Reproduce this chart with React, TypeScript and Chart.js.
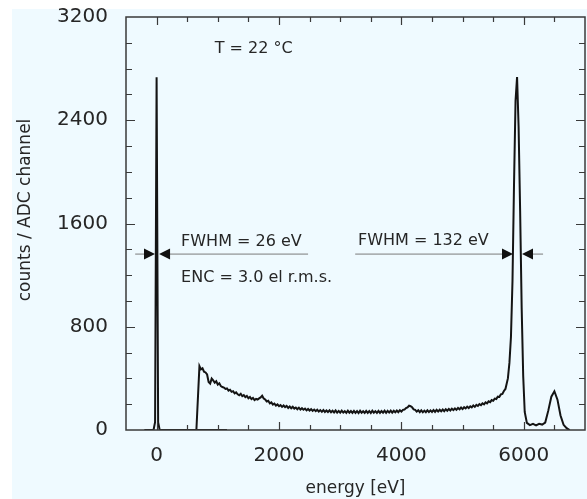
import React, { useEffect, useRef } from 'react';
import { Chart, registerables } from 'chart.js';

Chart.register(...registerables);

// ---------- data ----------
// noise peak (pulser / zero-energy) spectrum
const noiseEnergy = [-200, -50, -25, 0, 25, 50, 1150];
const noiseCounts = [0, 0, 60, 2734, 60, 0, 0];

// Fe-55 spectrum: onset of the shelf
const onsetEnergy = [650];
const onsetCounts = [0];

// shelf region, ADC channels every 25 eV starting at 700 eV
const shelfStartEnergy = 700;
const shelfChannelWidth = 25;
const shelfCounts = [
  495, 470, 478, 452, 446, 430, 372, 360, 398, 384, 366, 378, 352, 362, 340, 333,
  329, 318, 322, 305, 312, 296, 301, 284, 292, 277, 270, 281, 262, 270, 255, 264,
  246, 256, 239, 248, 232, 241, 236, 245, 252, 266, 244, 236, 221, 226, 206, 214,
  197, 205, 189, 198, 184, 193, 179, 190, 177, 186, 171, 182, 168, 180, 166, 174,
  161, 173, 158, 169, 157, 166, 152, 163, 151, 162, 148, 158, 146, 157, 143, 154,
  141, 155, 140, 151, 139, 152, 137, 149, 136, 151, 135, 148, 134, 150, 135, 146,
  133, 149, 134, 147, 132, 148, 133, 146, 131, 149, 134, 145, 132, 148, 133, 147,
  131, 149, 134, 146, 133, 148, 132, 147, 134, 149, 133, 148, 135, 150, 134, 149,
  137, 151, 138, 153, 142, 156, 158, 170, 175, 188, 184, 176, 160, 156, 142, 153,
  138, 152, 137, 150, 138, 153, 139, 152, 140, 155, 141, 156, 143, 157, 145, 159,
  146, 161, 149, 163, 151, 165, 154, 167, 156, 171, 160, 174, 162, 177, 167, 181,
  170, 184, 175, 190, 179, 194, 186, 200, 192, 207, 199, 214, 206, 222, 216, 232,
  226, 243, 240, 258, 256, 276, 280, 302, 318,
];

// main Mn K-alpha / K-beta peaks
const peakEnergy = [
  5740, 5765, 5790, 5815, 5840, 5865, 5890, 5915, 5940, 5965, 5990, 6015, 6050, 6100,
  6150, 6200, 6250, 6300, 6350, 6400, 6450, 6500, 6550, 6600, 6650, 6700, 6750,
];
const peakCounts = [
  400, 520, 720, 1150, 1900, 2550, 2734, 2350, 1700, 950, 420, 140, 55, 38,
  47, 36, 48, 42, 58, 150, 258, 300, 235, 112, 40, 14, 0,
];

const xMin = -500;
const xMax = 7000;
const xStep = 500;
const xLabelEvery = 2000;
const yMin = 0;
const yMax = 3200;
const yStep = 200;
const yLabelEvery = 800;

const xTitle = 'energy [eV]';
const yTitle = 'counts / ADC channel';

const noteTexts = ['T = 22 °C', 'FWHM = 26 eV', 'ENC = 3.0 el r.m.s.', 'FWHM = 132 eV'];
const noteX = [950, 400, 400, 3290];
const noteY = [2920, 1425, 1146, 1433];

// FWHM marker lines
const fwhmStart = [-350, 3245];
const fwhmEnd = [2475, 6315];
const fwhmLevel = [1363, 1363];
const fwhmLeftTip = [-26, 5824];
const fwhmRightTip = [40, 5971];

// ---------- styles ----------
const FONT = "'DejaVu Sans', sans-serif";
const BG = '#effaff';
const INK = '#262626';
const AXIS = '#3a3a3a';
const LINE = '#141414';

const decorPlugin = {
  id: 'decor',
  beforeDraw(chart: any) {
    const ctx = chart.ctx;
    ctx.save();
    ctx.fillStyle = '#ffffff';
    ctx.fillRect(0, 0, chart.width, chart.height);
    ctx.fillStyle = BG;
    ctx.fillRect(12, 9, chart.width - 12, chart.height - 9);
    ctx.restore();
  },
  afterDatasetsDraw(chart: any) {
    const { ctx, chartArea: a, scales } = chart;
    const x = scales.x;
    const y = scales.y;
    ctx.save();
    ctx.strokeStyle = AXIS;
    ctx.lineWidth = 1.2;
    ctx.beginPath();
    x.ticks.forEach((t: any) => {
      const v = t.value;
      if (v <= xMin || v >= xMax) return;
      const px = Math.round(x.getPixelForValue(v)) + 0.5;
      const len = v % xLabelEvery === 0 ? 8 : 5;
      ctx.moveTo(px, a.bottom);
      ctx.lineTo(px, a.bottom - len);
      ctx.moveTo(px, a.top);
      ctx.lineTo(px, a.top + len);
    });
    y.ticks.forEach((t: any) => {
      const v = t.value;
      if (v <= yMin || v >= yMax) return;
      const py = Math.round(y.getPixelForValue(v)) + 0.5;
      const len = v % yLabelEvery === 0 ? 9 : 6;
      ctx.moveTo(a.left, py);
      ctx.lineTo(a.left + len, py);
      ctx.moveTo(a.right, py);
      ctx.lineTo(a.right - len, py);
    });
    ctx.stroke();
    ctx.lineWidth = 1.5;
    ctx.strokeRect(a.left, a.top, a.right - a.left, a.bottom - a.top);

    for (let i = 0; i < fwhmStart.length; i++) {
      const py = y.getPixelForValue(fwhmLevel[i]);
      const x0 = x.getPixelForValue(fwhmStart[i]);
      const x1 = x.getPixelForValue(fwhmEnd[i]);
      const tl = x.getPixelForValue(fwhmLeftTip[i]);
      const tr = x.getPixelForValue(fwhmRightTip[i]);
      ctx.strokeStyle = '#7a7a7a';
      ctx.lineWidth = 1;
      ctx.beginPath();
      ctx.moveTo(x0, py);
      ctx.lineTo(tl - 6, py);
      ctx.moveTo(tr + 6, py);
      ctx.lineTo(x1, py);
      ctx.stroke();
      ctx.fillStyle = '#111';
      ctx.beginPath();
      ctx.moveTo(tl, py);
      ctx.lineTo(tl - 11, py - 5.5);
      ctx.lineTo(tl - 11, py + 5.5);
      ctx.closePath();
      ctx.fill();
      ctx.beginPath();
      ctx.moveTo(tr, py);
      ctx.lineTo(tr + 11, py - 5.5);
      ctx.lineTo(tr + 11, py + 5.5);
      ctx.closePath();
      ctx.fill();
    }

    ctx.fillStyle = INK;
    ctx.font = `16px ${FONT}`;
    ctx.textAlign = 'left';
    ctx.textBaseline = 'alphabetic';
    for (let i = 0; i < noteTexts.length; i++) {
      ctx.fillText(noteTexts[i], x.getPixelForValue(noteX[i]), y.getPixelForValue(noteY[i]));
    }

    ctx.font = `17px ${FONT}`;
    ctx.textAlign = 'center';
    ctx.textBaseline = 'middle';
    ctx.translate(25.5, 210);
    ctx.rotate(-Math.PI / 2);
    ctx.fillText(yTitle, 0, 0);
    ctx.restore();
  },
};

export default function App() {
  const ref = useRef<HTMLCanvasElement>(null);

  useEffect(() => {
    if (!ref.current) return;
    const noisePts = noiseEnergy.map((e, i) => ({ x: e, y: noiseCounts[i] }));
    const specPts = [
      ...onsetEnergy.map((e, i) => ({ x: e, y: onsetCounts[i] })),
      ...shelfCounts.map((c, i) => ({ x: shelfStartEnergy + i * shelfChannelWidth, y: c })),
      ...peakEnergy.map((e, i) => ({ x: e, y: peakCounts[i] })),
    ];
    const chart = new Chart(ref.current, {
      type: 'line',
      data: {
        datasets: [
          { data: noisePts, borderColor: LINE, borderWidth: 2, pointRadius: 0, tension: 0, fill: false },
          { data: specPts, borderColor: LINE, borderWidth: 2, pointRadius: 0, tension: 0, fill: false },
        ],
      },
      options: {
        animation: false,
        responsive: false,
        maintainAspectRatio: false,
        layout: { padding: { left: 0, right: 2, top: 17, bottom: 0 } },
        plugins: {
          legend: { display: false },
          tooltip: { enabled: false },
          title: { display: false },
        },
        scales: {
          x: {
            type: 'linear',
            min: xMin,
            max: xMax,
            grid: { display: false, drawTicks: true, tickLength: 14 },
            border: { display: false },
            ticks: {
              stepSize: xStep,
              autoSkip: false,
              maxRotation: 0,
              padding: 0,
              color: INK,
              font: { family: FONT, size: 20 },
              callback: (v: any) => (Number(v) % xLabelEvery === 0 ? String(v) : ''),
            },
            title: {
              display: true,
              text: xTitle,
              color: INK,
              font: { family: FONT, size: 17 },
              padding: { top: 0, bottom: 0 },
            },
            afterFit: (s: any) => {
              s.height = 69;
            },
          },
          y: {
            type: 'linear',
            min: yMin,
            max: yMax,
            grid: { display: false, drawTicks: true, tickLength: 18 },
            border: { display: false },
            ticks: {
              stepSize: yStep,
              autoSkip: false,
              padding: 0,
              color: INK,
              font: { family: FONT, size: 20 },
              callback: (v: any) => (Number(v) % yLabelEvery === 0 ? String(v) : ''),
            },
            afterFit: (s: any) => {
              s.width = 126;
            },
          },
        },
      },
      plugins: [decorPlugin],
    });
    return () => chart.destroy();
  }, []);

  return (
    <div style={{ position: 'fixed', left: 0, top: 0, width: 587, height: 499 }}>
      <canvas ref={ref} width={587} height={499} style={{ display: 'block', width: 587, height: 499 }} />
    </div>
  );
}
